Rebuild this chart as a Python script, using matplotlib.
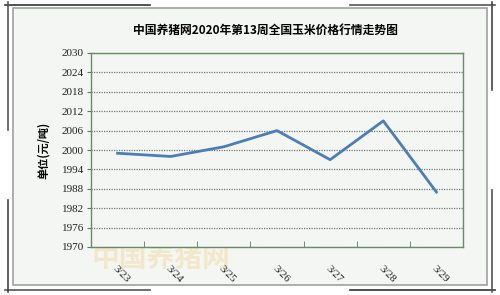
import matplotlib.pyplot as plt
from matplotlib.lines import Line2D
from matplotlib.patches import Rectangle
import numpy as np

# data
dates = ['3/23', '3/24', '3/25', '3/26', '3/27', '3/28', '3/29']
prices = [1999, 1998, 2001, 2006, 1997, 2009, 1987]
y_ticks = list(range(1970, 2031, 6))

title = '中国养猪网2020年第13周全国玉米价格行情走势图'
ylabel = '单位(元/吨)'

cjk = ['Noto Sans CJK SC', 'DejaVu Sans']
serif = ['Liberation Serif', 'DejaVu Serif']

fig = plt.figure(figsize=(5, 2.95), dpi=100)
fig.patch.set_facecolor('white')

# panel behind the chart
fig.patches.append(Rectangle((13/500, 1-285/295), 474/500, 277/295, transform=fig.transFigure,
                             facecolor='#f4f6f3', edgecolor='#a0a0a0', linewidth=1.2, zorder=-2))
# decorative frame lines
for (xs, ys, c) in [
    ([5/500, 150/500], [1-5/295, 1-5/295], '#333333'),
    ([8/500, 8/500], [1-2/295, 1-130/295], '#555555'),
    ([350/500, 495/500], [1-5/295, 1-5/295], '#555555'),
    ([492/500, 492/500], [1-2/295, 1-90/295], '#444444'),
    ([5/500, 150/500], [1-290/295, 1-290/295], '#555555'),
    ([8/500, 8/500], [1-292/295, 1-200/295], '#444444'),
    ([350/500, 495/500], [1-290/295, 1-290/295], '#333333'),
    ([492/500, 492/500], [1-292/295, 1-190/295], '#555555'),
]:
    fig.lines.append(Line2D(xs, ys, transform=fig.transFigure, color=c, linewidth=1.2, zorder=-1))

ax = fig.add_axes([91/500, 1-247/295, 372/500, 194/295])
ax.set_facecolor('#f4f6f3')

x = np.arange(len(dates))
ax.plot(x, prices, color='#4a7ebb', linewidth=2)

ax.set_xlim(-0.5, len(dates) - 0.5)
ax.set_ylim(1970, 2030)
ax.set_yticks(y_ticks)
ax.set_yticklabels([str(v) for v in y_ticks], fontsize=8, family=serif, color='#222222')
ax.yaxis.grid(True, color='#777777', linestyle=(0, (1, 1)), linewidth=0.9)
ax.tick_params(axis='y', length=3, color='#5a7a5a', pad=2)

ax.set_xticks(x)
ax.set_xticklabels(dates, rotation=-45, ha='left', va='top', fontsize=8, family=serif,
                   color='#222222', rotation_mode='anchor')
ax.tick_params(axis='x', length=0, pad=12)
ax.set_xticks(np.arange(len(dates) + 1) - 0.5, minor=True)
ax.tick_params(axis='x', which='minor', direction='in', length=4, color='#5a7a5a')

for s in ax.spines.values():
    s.set_color('#6a8a6a')
    s.set_linewidth(1)

fig.text(265/500, 1-30/295, title, ha='center', va='center', fontsize=8.5,
         fontweight='bold', family=cjk)
fig.text(43/500, 1-150/295, ylabel, ha='center', va='center', rotation=90,
         fontsize=8, fontweight='bold', family=cjk)

# faint watermark
fig.text(92/500, 1-259/295, '中国养猪网', ha='left', va='center', fontsize=20,
         fontweight='bold', family=cjk, color='#f0d58a', alpha=0.4, zorder=-1)

fig.savefig('out.png', dpi=100)
